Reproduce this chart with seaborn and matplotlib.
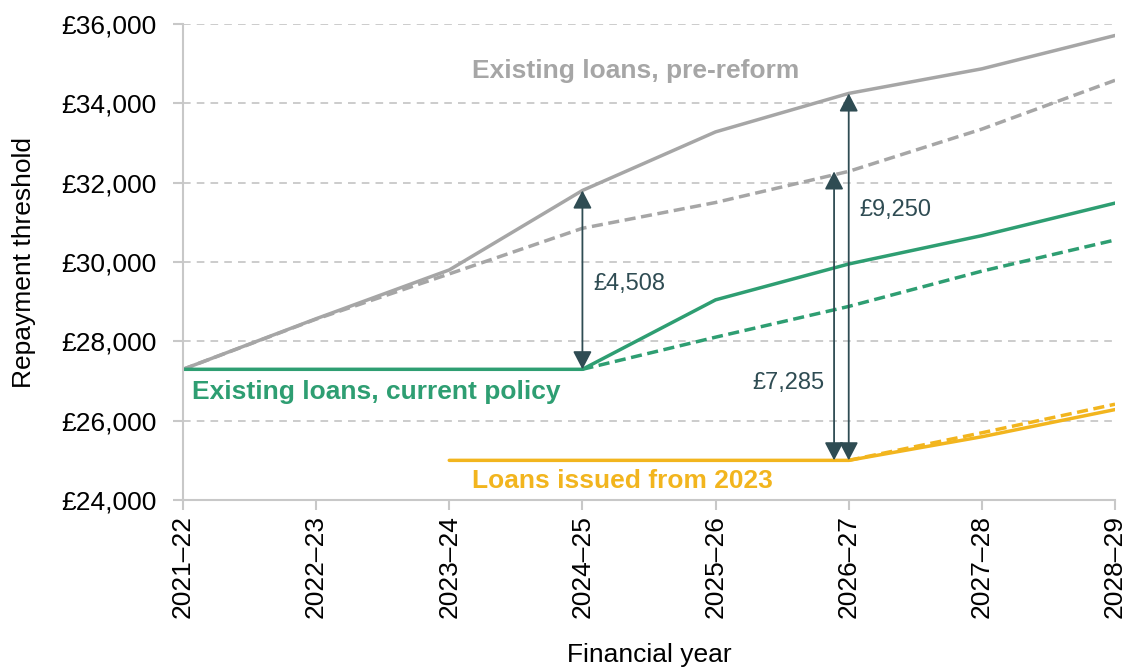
import numpy as np
import pandas as pd
import seaborn as sns
from matplotlib import pyplot as plt

years = ["2021–22", "2022–23", "2023–24", "2024–25",
         "2025–26", "2026–27", "2027–28", "2028–29"]

pre_reform = [27295, 28570, 29800, 31803, 33280, 34250, 34870, 35710]
pre_reform_dash = [27295, 28560, 29700, 30850, 31500, 32285, 33350, 34580]
current = [27295, 27295, 27295, 27295, 29046, 29950, 30665, 31485]
current_dash = [np.nan, np.nan, np.nan, 27295, 28105, 28880, 29770, 30555]
new_loans = [np.nan, np.nan, 25000, 25000, 25000, 25000, 25595, 26280]
new_loans_dash = [np.nan, np.nan, np.nan, np.nan, np.nan, 25000, 25695, 26415]

gap_labels = ["£4,508", "£7,285", "£9,250"]

grey = "#A6A6A6"
green = "#2E9E72"
yellow = "#F2B51E"
arrow_col = "#2F4C53"

sns.set_theme(style="white")
plt.rcParams['font.family'] = ['Liberation Sans', 'DejaVu Sans']
plt.rcParams['text.color'] = 'black'
plt.rcParams['axes.labelcolor'] = 'black'

fig, ax = plt.subplots(figsize=(11.28, 6.7), dpi=100)
fig.subplots_adjust(left=0.1622, right=0.9885, top=0.9642, bottom=0.2537)

x = np.arange(len(years))
df = pd.DataFrame({"x": x, "pre": pre_reform, "pre_d": pre_reform_dash,
                   "cur": current, "cur_d": current_dash,
                   "new": new_loans, "new_d": new_loans_dash})

lw = 2.5
dash = (0, (3.2, 1.6))
sns.lineplot(data=df, x="x", y="pre_d", color=grey, lw=lw, linestyle=dash, ax=ax)
sns.lineplot(data=df, x="x", y="pre", color=grey, lw=lw, ax=ax)
sns.lineplot(data=df, x="x", y="cur_d", color=green, lw=lw, linestyle=dash, ax=ax)
sns.lineplot(data=df, x="x", y="cur", color=green, lw=lw, ax=ax)
sns.lineplot(data=df, x="x", y="new_d", color=yellow, lw=lw, linestyle=dash, ax=ax)
sns.lineplot(data=df, x="x", y="new", color=yellow, lw=lw, ax=ax)

ax.set_xlim(0, 7)
ax.set_ylim(24000, 36000)
ax.set_yticks(range(24000, 36001, 2000))
ax.set_yticklabels([f"£{v:,}" for v in range(24000, 36001, 2000)], fontsize=19)
ax.set_xticks(x)
ax.set_xticklabels(years, rotation=90, fontsize=19)
ax.set_xlabel("Financial year", fontsize=19, labelpad=18)
ax.set_ylabel("Repayment threshold", fontsize=19, labelpad=18)

ax.grid(axis="y", color="#BFBFBF", linestyle=(0, (5, 4)), lw=1.1)
for s in ["top", "right"]:
    ax.spines[s].set_visible(False)
for s in ["left", "bottom"]:
    ax.spines[s].set_color("#C8C8C8")
    ax.spines[s].set_linewidth(1.5)
ax.tick_params(axis="both", which="both", direction="out", length=7,
               width=1.5, color="#C8C8C8", labelcolor="black",
               bottom=True, left=True)
ax.tick_params(axis="x", pad=4)
ax.tick_params(axis="y", pad=12)

# gap arrows
arrows = [(3.0, current[3], pre_reform[3]),
          (4.89, new_loans[5], pre_reform_dash[5]),
          (5.0, new_loans[5], pre_reform[5])]
for ax_x, y0, y1 in arrows:
    ax.annotate("", xy=(ax_x, y0), xytext=(ax_x, y1),
                arrowprops=dict(arrowstyle="<|-|>,head_length=0.5,head_width=0.26",
                                color=arrow_col, lw=1.3,
                                mutation_scale=22, shrinkA=0, shrinkB=0))
ax.text(3.08, 29440, gap_labels[0], fontsize=17, color=arrow_col, va="center", ha="left")
ax.text(4.82, 26950, gap_labels[1], fontsize=17, color=arrow_col, va="center", ha="right")
ax.text(5.08, 31310, gap_labels[2], fontsize=17, color=arrow_col, va="center", ha="left")

ax.text(3.40, 34810, "Existing loans, pre-reform", fontsize=19, fontweight="bold",
        color=grey, ha="center", va="center")
ax.text(0.07, 26720, "Existing loans, current policy", fontsize=19, fontweight="bold",
        color=green, ha="left", va="center")
ax.text(3.30, 24480, "Loans issued from 2023", fontsize=19, fontweight="bold",
        color=yellow, ha="center", va="center")

fig.savefig("out.png", dpi=100)
